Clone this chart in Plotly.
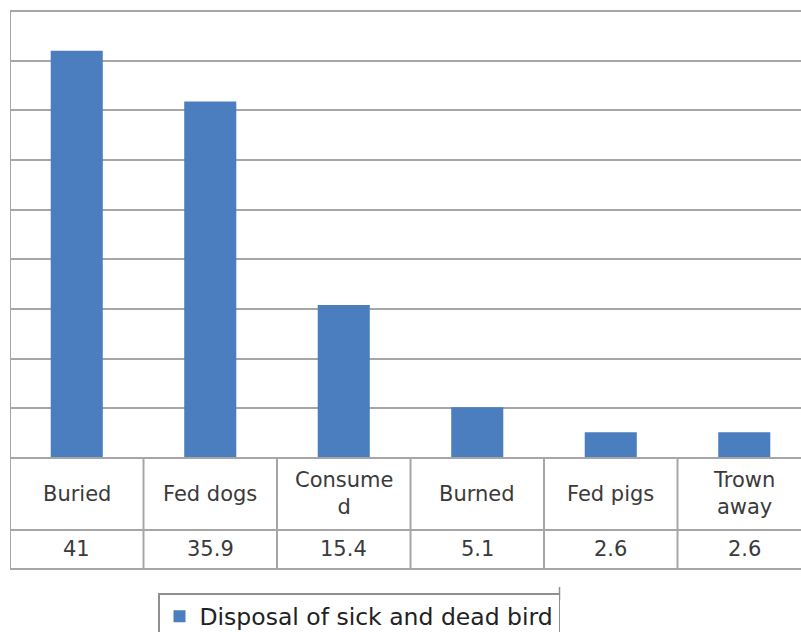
import plotly.graph_objects as go

categories = ["Buried", "Fed dogs", "Consumed", "Burned", "Fed pigs", "Trown away"]
cat_labels = ["Buried", "Fed dogs", "Consume<br>d", "Burned", "Fed pigs", "Trown<br>away"]
values = [41, 35.9, 15.4, 5.1, 2.6, 2.6]
value_labels = ["41", "35.9", "15.4", "5.1", "2.6", "2.6"]
series_name = "Disposal of sick and dead bird"
y_ticks = [0, 5, 10, 15, 20, 25, 30, 35, 40, 45]

W, H = 801, 632
L, T, B = 10, 11, 458  # plot area pixel edges
PH = B - T


def py(y):
    return (B - y) / PH


GRID = "#a6a6a6"
TXT = "#3a3a3a"
FONT = "DejaVu Sans"

xs = list(range(len(categories)))

fig = go.Figure()
fig.add_trace(go.Bar(
    x=xs, y=values, name=series_name, width=0.39,
    marker=dict(color="#4A7EBF", line=dict(width=0)),
    showlegend=True,
))

shapes = []
# top and bottom edge gridlines + table horizontal lines
for yy in [11, 458, 530, 569]:
    shapes.append(dict(type="line", xref="paper", yref="paper", x0=0, x1=1,
                       y0=py(yy), y1=py(yy), line=dict(color=GRID, width=2)))
# table vertical lines
for i in range(len(categories)):
    shapes.append(dict(type="line", xref="x", yref="paper", x0=i + 0.5, x1=i + 0.5,
                       y0=0, y1=py(569), line=dict(color=GRID, width=2)))
# left border
shapes.append(dict(type="line", xref="x", yref="paper", x0=-0.5, x1=-0.5,
                   y0=1, y1=py(569), line=dict(color=GRID, width=2)))
# small tick above legend's right border
shapes.append(dict(type="line", xref="paper", yref="paper",
                   x0=(559.5 - L) / (W - L), x1=(559.5 - L) / (W - L),
                   y0=py(587), y1=py(600), line=dict(color="#909090", width=1.5)))

annotations = []
for i, lab in enumerate(cat_labels):
    annotations.append(dict(x=i, y=py(494), xref="x", yref="paper", text=lab,
                            showarrow=False, font=dict(family=FONT, size=21, color=TXT),
                            xanchor="center", yanchor="middle"))
for i, v in enumerate(value_labels):
    annotations.append(dict(x=i, y=py(549), xref="x", yref="paper", text=v,
                            showarrow=False, font=dict(family=FONT, size=21, color=TXT),
                            xanchor="center", yanchor="middle"))

fig.update_layout(
    width=W, height=H,
    margin=dict(l=L, r=0, t=T, b=H - B, pad=0, autoexpand=False),
    paper_bgcolor="white", plot_bgcolor="white",
    xaxis=dict(range=[-0.5, 5.425], showticklabels=False, showgrid=False,
               zeroline=False, showline=False, ticks=""),
    yaxis=dict(range=[0, 45], tickvals=y_ticks, showticklabels=False, showgrid=True,
               gridcolor=GRID, gridwidth=2, zeroline=False, showline=False, ticks=""),
    shapes=shapes,
    annotations=annotations,
    showlegend=True,
    legend=dict(x=(158 - L) / (W - L), y=py(593), xanchor="left", yanchor="top",
                bordercolor="#909090", borderwidth=1.5, bgcolor="white",
                font=dict(family=FONT, size=23.5, color="#222222"),
                itemwidth=30, orientation="h"),
)

fig.write_html("out.html")
